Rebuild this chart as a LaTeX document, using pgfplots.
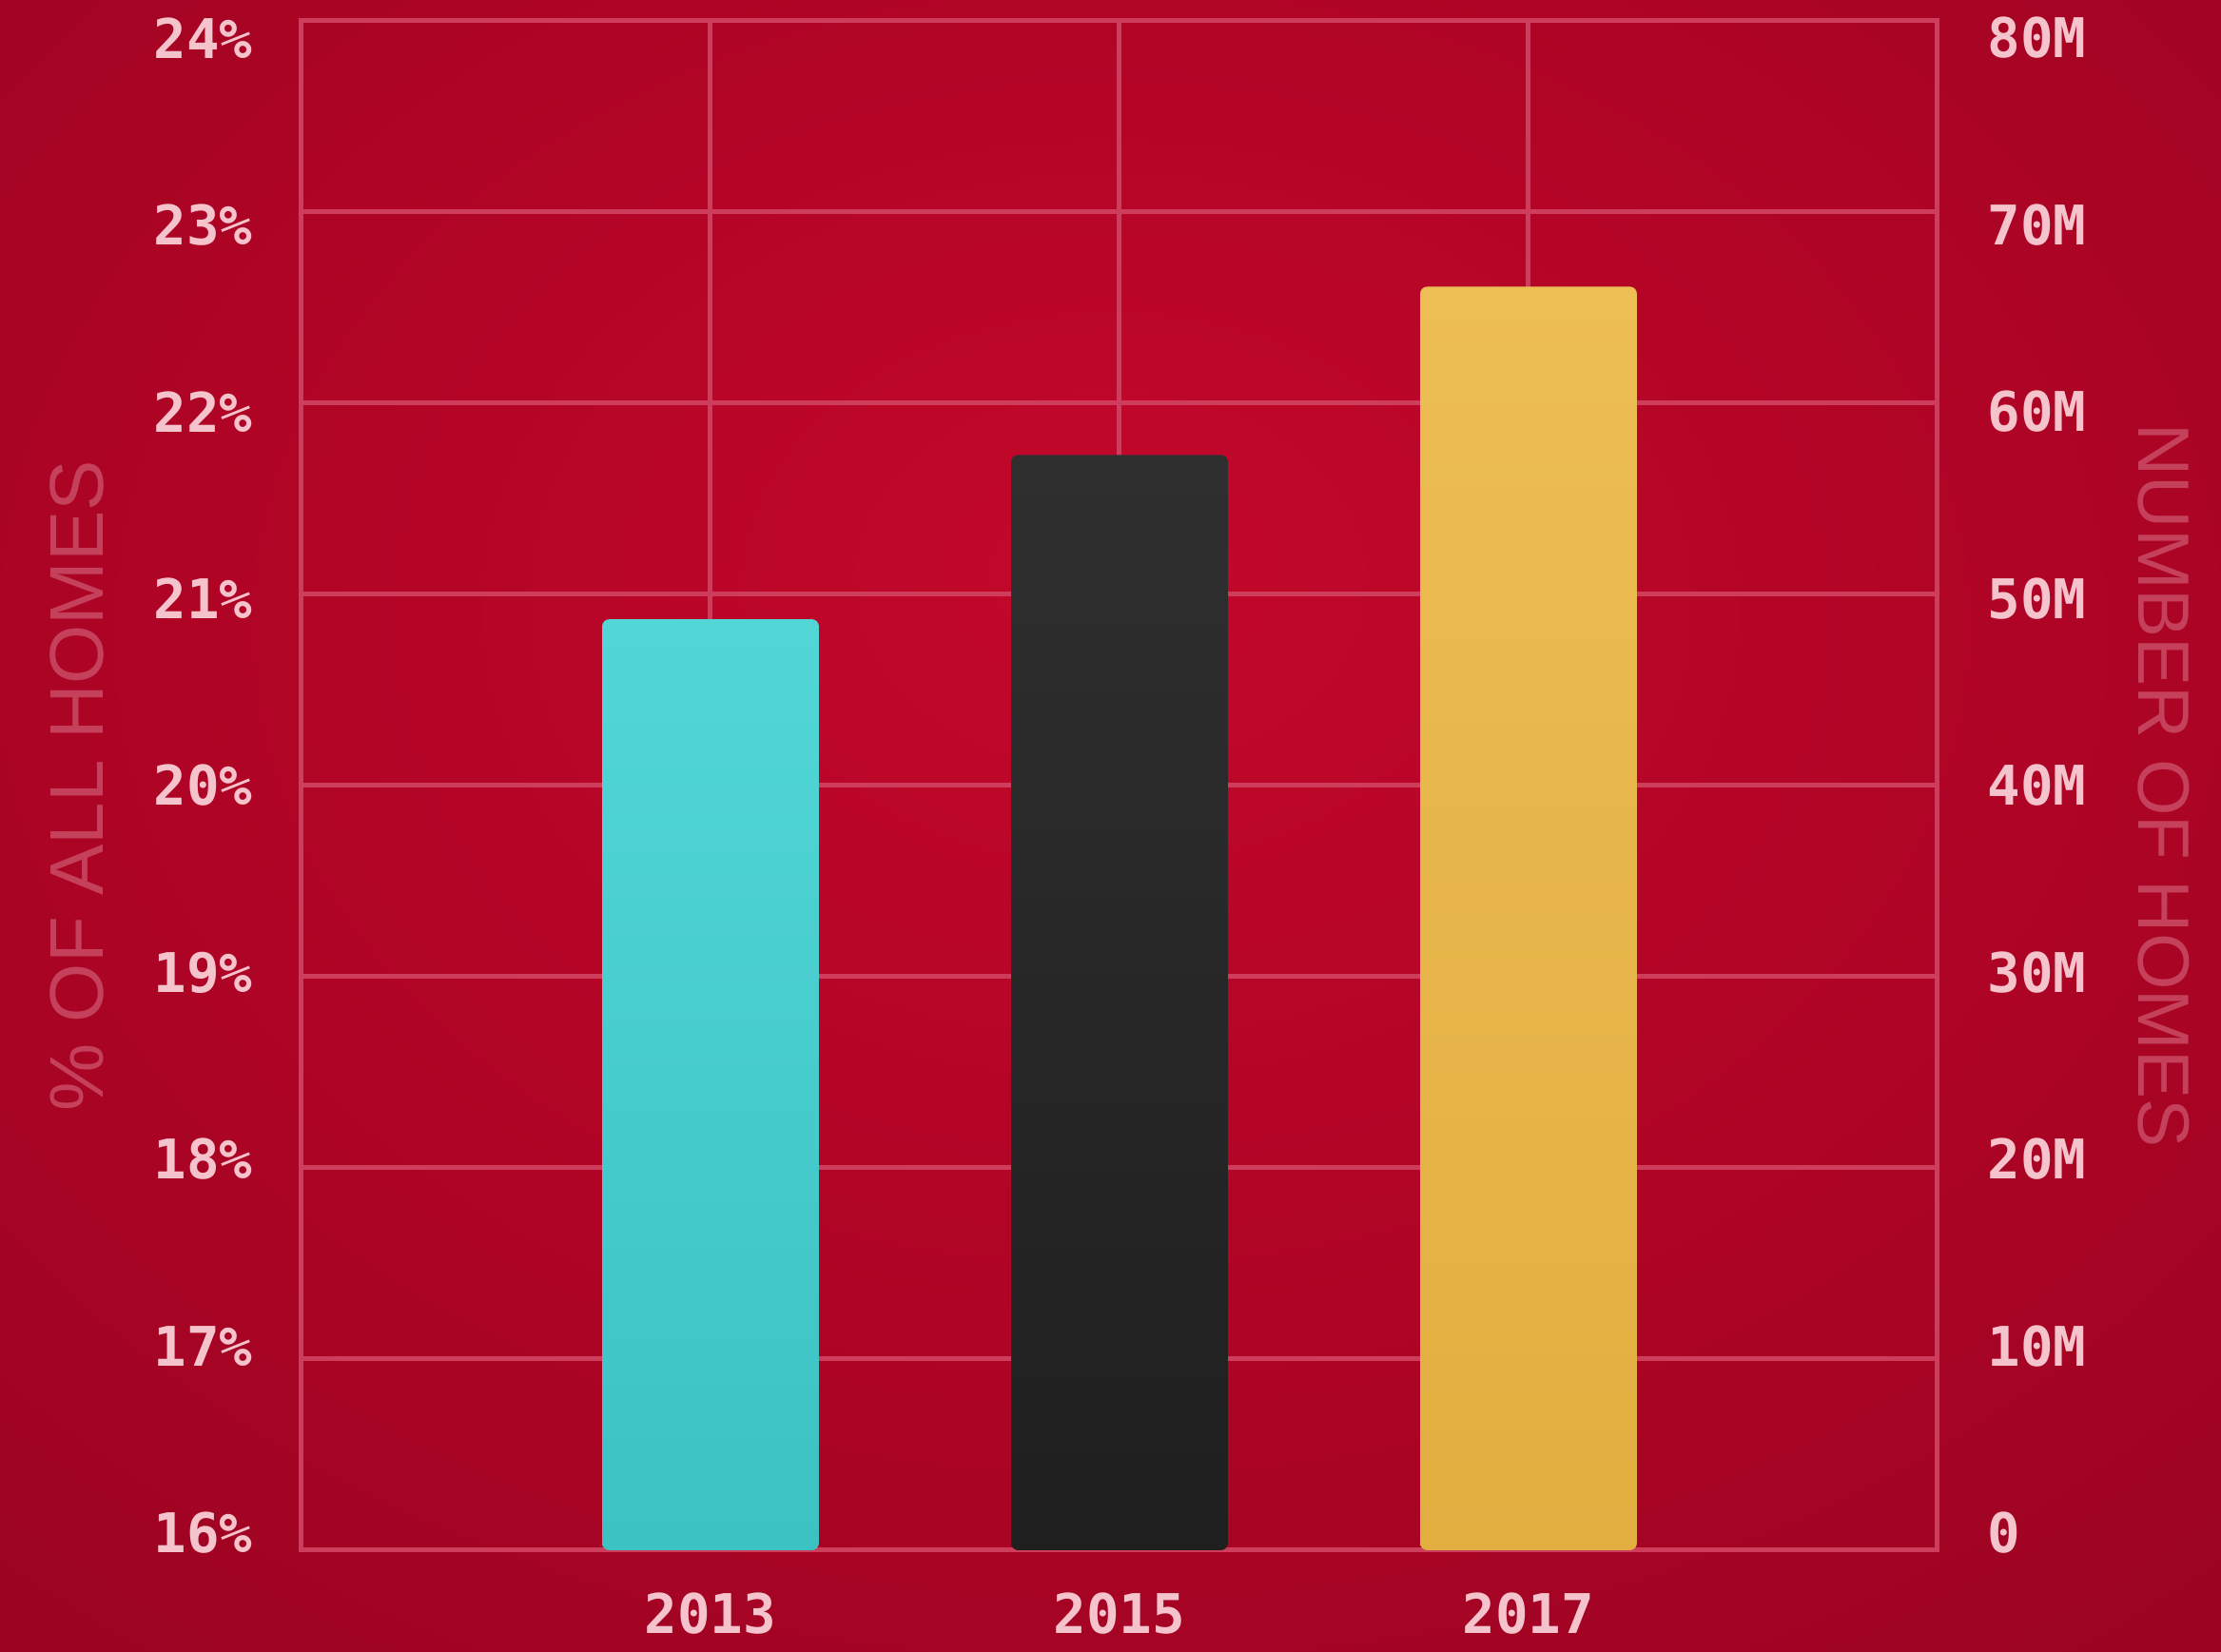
\documentclass[border=0pt]{standalone}
\usepackage{fontspec}
\usepackage{pgfplots}
\usepackage{pgfplotstable}
\pgfplotsset{compat=1.18}
\setmainfont{Liberation Sans}
\setmonofont{DejaVu Sans Mono}

\definecolor{bgin}{HTML}{C3082B}
\definecolor{bgmid}{HTML}{AE0425}
\definecolor{bgout}{HTML}{880320}
\definecolor{gridc}{HTML}{CF3D5C}
\definecolor{tickc}{HTML}{F5C3CC}
\definecolor{labc}{HTML}{C4405B}
\definecolor{cyT}{HTML}{52D6D6}
\definecolor{cyB}{HTML}{3CC2C3}
\definecolor{bkT}{HTML}{2F2F2F}
\definecolor{bkB}{HTML}{1F1F1F}
\definecolor{yeT}{HTML}{EDBE54}
\definecolor{yeB}{HTML}{E2AE40}

\pgfdeclareradialshading{bgshade}{\pgfpoint{0bp}{8bp}}{color(0bp)=(bgin); color(22bp)=(bgmid); color(55bp)=(bgout); color(80bp)=(bgout)}

\pgfplotstableread{
x pct
0 20.87
}\tabA
\pgfplotstableread{
x pct
1 21.73
}\tabB
\pgfplotstableread{
x pct
2 22.61
}\tabC

\begin{document}
\begin{tikzpicture}
\path[use as bounding box] (-63.4pt,-21.4pt) rectangle (403.6pt,326pt);
\shade[shading=bgshade] (-63.4pt,-21.4pt) rectangle (403.6pt,326pt);
\begin{axis}[
  at={(0,0)}, anchor=south west, scale only axis,
  width=344pt, height=321.6pt,
  xmin=-1, xmax=3, ymin=0, ymax=8,
  xtick={0,1,2}, xticklabels={2013,2015,2017},
  ytick={0,1,2,3,4,5,6,7,8},
  yticklabels={16\%,17\%,18\%,19\%,20\%,21\%,22\%,23\%,24\%},
  xmajorgrids, ymajorgrids,
  grid style={gridc, line width=1pt},
  axis line style={gridc, line width=1pt},
  major tick length=0pt,
  tick label style={tickc, font=\ttfamily\bfseries\fontsize{11.5}{11.5}\selectfont},
  yticklabel style={xshift=-6.8pt, yshift={-(\ticknum-4)*0.9pt}},
  xticklabel style={yshift=-5.4pt},
  ylabel={\% OF ALL HOMES},
  ylabel style={labc, font=\fontsize{16}{16}\selectfont, at={(axis description cs:-0.137,0.5)}, anchor=center},
]
\addplot[ybar, bar width=0.53, bar shift=0pt, draw=none, top color=cyT, bottom color=cyB, rounded corners=1.5pt] table[x=x, y expr=\thisrow{pct}-16] {\tabA};
\addplot[ybar, bar width=0.53, bar shift=0pt, draw=none, top color=bkT, bottom color=bkB, rounded corners=1.5pt] table[x=x, y expr=\thisrow{pct}-16] {\tabB};
\addplot[ybar, bar width=0.53, bar shift=0pt, draw=none, top color=yeT, bottom color=yeB, rounded corners=1.5pt] table[x=x, y expr=\thisrow{pct}-16] {\tabC};
\end{axis}
\begin{axis}[
  at={(0,0)}, anchor=south west, scale only axis,
  width=344pt, height=321.6pt,
  xmin=-1, xmax=3, ymin=0, ymax=80,
  axis y line*=right, axis x line=none,
  axis line style={draw=none},
  ytick={0,10,20,30,40,50,60,70,80},
  yticklabels={0,10M,20M,30M,40M,50M,60M,70M,80M},
  major tick length=0pt,
  tick label style={tickc, font=\ttfamily\bfseries\fontsize{11.5}{11.5}\selectfont},
  yticklabel style={xshift=7pt, yshift={-(\ticknum-4)*0.9pt}},
  ylabel={NUMBER OF HOMES},
  ylabel style={labc, font=\fontsize{15.3}{15.3}\selectfont, at={(axis description cs:1.138,0.5)}, anchor=center, rotate=180},
]
\addplot[draw=none] coordinates {(0,0)};
\end{axis}
\end{tikzpicture}
\end{document}
